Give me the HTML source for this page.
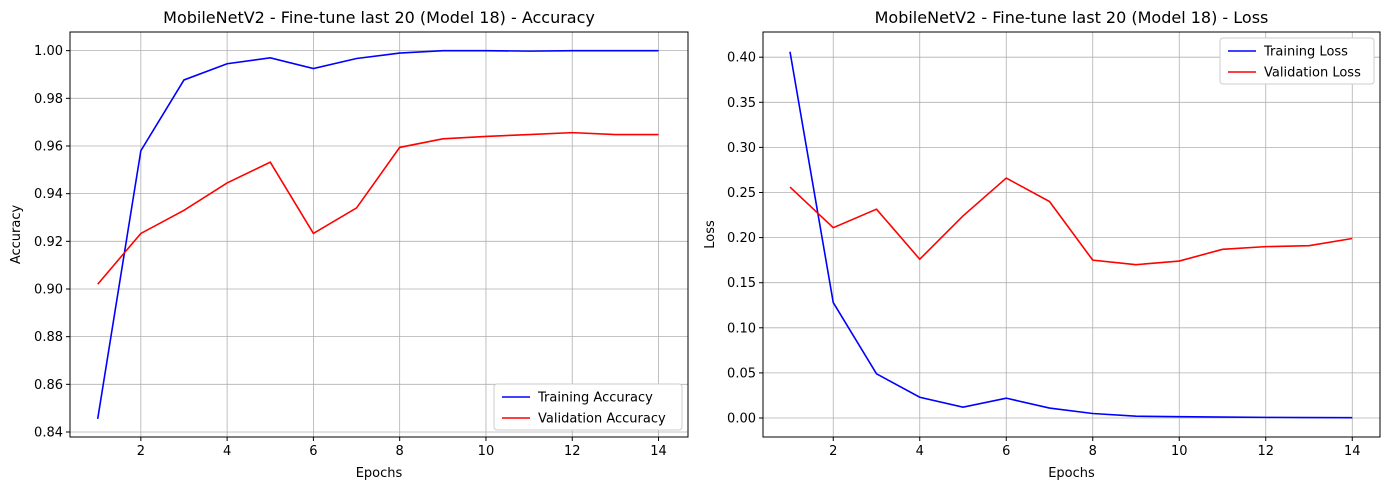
<!DOCTYPE html>
<html><head><meta charset="utf-8"><style>
body{margin:0;background:#fff;font-family:"Liberation Sans","DejaVu Sans",sans-serif;}
svg text{font-family:"DejaVu Sans","Liberation Sans",sans-serif;}
</style></head><body>
<svg id="c" width="1389" height="490" xmlns="http://www.w3.org/2000/svg"></svg>
<script>
const epochs=[1,2,3,4,5,6,7,8,9,10,11,12,13,14];
const trainAcc=[0.8455,0.958,0.9877,0.9945,0.997,0.9925,0.9967,0.999,1.0,1.0,0.9998,1.0,1.0,1.0];
const valAcc=[0.902,0.9233,0.933,0.9445,0.9532,0.9233,0.934,0.9594,0.963,0.964,0.9648,0.9656,0.9648,0.9648];
const trainLoss=[0.406,0.128,0.049,0.023,0.012,0.022,0.011,0.005,0.002,0.0015,0.001,0.0007,0.0005,0.0003];
const valLoss=[0.256,0.211,0.2315,0.176,0.224,0.266,0.240,0.175,0.170,0.174,0.187,0.190,0.191,0.199];
const xTicks=[2,4,6,8,10,12,14];
const accTicks=[0.84,0.86,0.88,0.90,0.92,0.94,0.96,0.98,1.00];
const lossTicks=[0,0.05,0.10,0.15,0.20,0.25,0.30,0.35,0.40];
const NS='http://www.w3.org/2000/svg';
const svg=document.getElementById('c');
function mk(t,a,p){const e=document.createElementNS(NS,t);for(const k in a)e.setAttribute(k,a[k]);(p||svg).appendChild(e);return e;}
function panel(o){
  const g=mk('g',{});
  
  
  const L=o.L,R=o.R,T=32,B=437;
  const sx=v=>o.x0+(v-1)*o.kx;
  const sy=v=>o.y0-(v-o.v0)*o.ky;
  xTicks.forEach(t=>{const x=sx(t);
    const l=mk('line',{x1:x,x2:x,y1:T,y2:B,stroke:'#b0b0b0','stroke-width':0.8},g);
    
    mk('line',{x1:x,x2:x,y1:B,y2:B+4,stroke:'#000'},g);
    const tx=mk('text',{x:x,y:B+18,'font-size':13,'text-anchor':'middle'},g);tx.textContent=t;
    });
  o.yt.forEach(t=>{const y=sy(t);
    const l=mk('line',{x1:L,x2:R,y1:y,y2:y,stroke:'#b0b0b0','stroke-width':0.8},g);
    
    mk('line',{x1:L-4,x2:L,y1:y,y2:y,stroke:'#000'},g);
    const tx=mk('text',{x:L-7,y:y+4.5,'font-size':13,'text-anchor':'end'},g);tx.textContent=t.toFixed(2);
    });
  o.series.forEach(s=>{
    const p=mk('polyline',{points:epochs.map((e,i)=>sx(e)+','+sy(s.d[i])).join(' '),fill:'none',stroke:s.c,'stroke-width':1.6},g);
    });
  const fr=mk('rect',{x:L,y:T,width:R-L,height:B-T,fill:'none',stroke:'#000','stroke-width':1},g);
  
  const ti=mk('text',{x:(L+R)/2,y:23,'font-size':16,'text-anchor':'middle'},g);ti.textContent=o.title;
  
  const xl=mk('text',{x:(L+R)/2,y:477,'font-size':13,'text-anchor':'middle'},g);xl.textContent='Epochs';
  
  const yl=mk('text',{x:0,y:0,'font-size':13,'text-anchor':'middle',transform:`translate(${o.ylx},${(T+B)/2}) rotate(-90)`},g);yl.textContent=o.ylab;
  
  const lg=mk('g',{},g);
  mk('rect',{x:o.lx,y:o.ly,width:o.lw,height:46,fill:'#fff',stroke:'#ccc',rx:3},lg);
  o.series.forEach((s,i)=>{const y=o.ly+13+i*21;
    mk('line',{x1:o.lx+8,x2:o.lx+36,y1:y,y2:y,stroke:s.c,'stroke-width':1.6},lg);
    const t=mk('text',{x:o.lx+44,y:y+4.5,'font-size':13},lg);t.textContent=s.label;
    });
}
panel({name:'accuracy-chart',L:70,R:688,x0:97.7,kx:43.14,v0:0.84,y0:432,ky:47.67/0.02,yt:accTicks,
  title:'MobileNetV2 - Fine-tune last 20 (Model 18) - Accuracy',ylab:'Accuracy',ylx:20,lx:494,ly:384,lw:188,
  series:[{d:trainAcc,c:'#0000ff',n:'training-accuracy-line',label:'Training Accuracy'},{d:valAcc,c:'#ff0000',n:'validation-accuracy-line',label:'Validation Accuracy'}]});
panel({name:'loss-chart',L:763,R:1380,x0:790,kx:43.25,v0:0,y0:418,ky:45.1/0.05,yt:lossTicks,
  title:'MobileNetV2 - Fine-tune last 20 (Model 18) - Loss',ylab:'Loss',ylx:714,lx:1220,ly:38,lw:154,
  series:[{d:trainLoss,c:'#0000ff',n:'training-loss-line',label:'Training Loss'},{d:valLoss,c:'#ff0000',n:'validation-loss-line',label:'Validation Loss'}]});
</script>
</body></html>
